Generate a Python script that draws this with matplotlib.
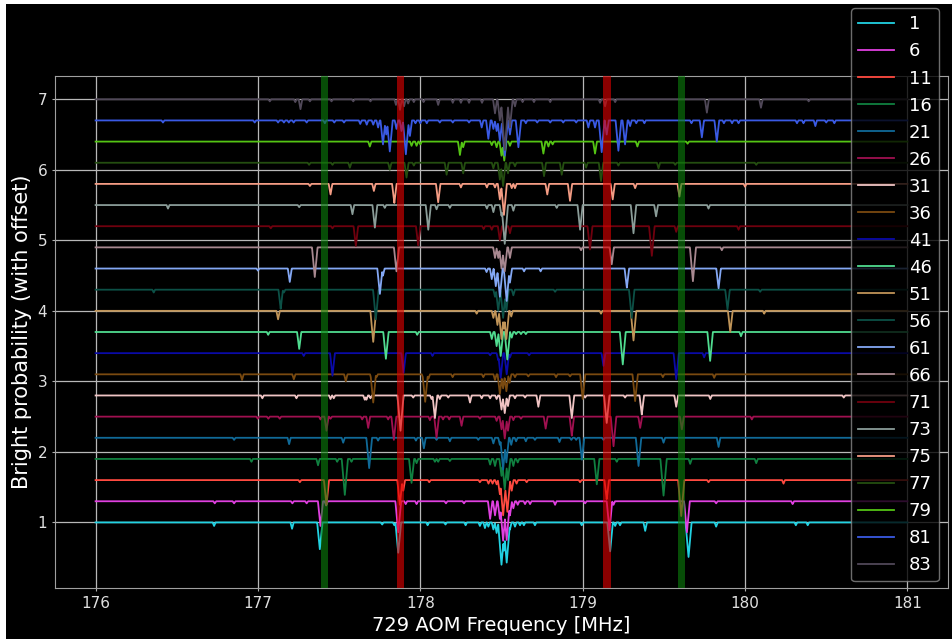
import numpy as np
import matplotlib
matplotlib.use("Agg")
import matplotlib.pyplot as plt
from matplotlib.patches import Rectangle

# Scan labels (one trace per scan) and their colours
LABELS = ["1", "6", "11", "16", "21", "26", "31", "36", "41", "46", "51",
          "56", "61", "66", "71", "73", "75", "77", "79", "81", "83"]
COLORS = ["#22d2e2", "#e040e0", "#ff4a40", "#108040", "#106a98", "#a01050",
          "#f0c4c4", "#7a4a10", "#0a0aa8", "#50dc90", "#c09458", "#0c5046",
          "#84a8f4", "#a88890", "#70000e", "#8a9c98", "#f49c84", "#244e10",
          "#54c414", "#3a5ae4", "#504858"]

OFFSET_STEP = 0.3
FREQ_START, FREQ_STOP = 176.0, 181.0

# Reference transitions (MHz)
GREEN_LINES = [177.41, 179.61]
RED_LINES = [177.877, 179.15]

# Dips in bright probability per scan: (frequency MHz, depth)
DIPS_1 = [(176.73, 0.05), (177.21, 0.09), (177.381, 0.38), (177.765, 0.03),
          (177.84, 0.04), (177.864, 0.43), (178.045, 0.04), (178.155, 0.03),
          (178.279, 0.04), (178.367, 0.05), (178.398, 0.08), (178.419, 0.06),
          (178.45, 0.10), (178.47, 0.15), (178.50, 0.60), (178.515, 0.40),
          (178.532, 0.57), (178.552, 0.10), (178.583, 0.06), (178.614, 0.04),
          (178.638, 0.04), (178.706, 0.04), (178.994, 0.04), (179.169, 0.41),
          (179.20, 0.05), (179.23, 0.04), (179.385, 0.12), (179.652, 0.49),
          (179.822, 0.06), (180.313, 0.04), (180.386, 0.04)]
DIPS_6 = [(176.734, 0.03), (176.853, 0.03), (177.212, 0.03), (177.30, 0.03),
          (177.385, 0.35), (177.42, 0.06), (177.864, 0.44), (177.91, 0.04),
          (177.977, 0.04), (178.158, 0.03), (178.269, 0.03), (178.43, 0.25),
          (178.46, 0.20), (178.49, 0.25), (178.51, 0.56), (178.532, 0.55),
          (178.552, 0.20), (178.573, 0.10), (178.60, 0.05), (178.645, 0.04),
          (178.676, 0.04), (178.83, 0.05), (179.015, 0.03), (179.165, 0.41),
          (179.19, 0.05), (179.642, 0.44), (179.822, 0.03), (180.293, 0.04)]
DIPS_11 = [(177.258, 0.03), (177.422, 0.35), (177.874, 0.35), (177.895, 0.15),
           (178.055, 0.03), (178.367, 0.03), (178.42, 0.05), (178.445, 0.05),
           (178.47, 0.06), (178.49, 0.20), (178.51, 0.50), (178.536, 0.45),
           (178.563, 0.15), (178.593, 0.05), (178.655, 0.03), (178.984, 0.03),
           (179.148, 0.27), (179.607, 0.51), (179.775, 0.03), (180.237, 0.05)]
DIPS_16 = [(176.96, 0.04), (177.37, 0.09), (177.488, 0.04), (177.535, 0.51),
           (177.576, 0.04), (177.946, 0.34), (177.977, 0.06), (178.09, 0.04),
           (178.11, 0.04), (178.182, 0.03), (178.43, 0.08), (178.46, 0.10),
           (178.50, 0.24), (178.52, 0.43), (178.54, 0.30), (178.573, 0.10),
           (178.60, 0.05), (179.087, 0.36), (179.21, 0.04), (179.498, 0.52),
           (179.662, 0.07), (180.069, 0.06)]
DIPS_21 = [(176.853, 0.03), (177.192, 0.09), (177.525, 0.07), (177.685, 0.43),
           (177.74, 0.04), (177.973, 0.04), (178.022, 0.15), (178.10, 0.03),
           (178.182, 0.05), (178.357, 0.03), (178.45, 0.08), (178.49, 0.10),
           (178.51, 0.45), (178.53, 0.35), (178.56, 0.10), (178.59, 0.05),
           (178.65, 0.05), (178.706, 0.03), (178.857, 0.06), (178.93, 0.03),
           (178.96, 0.03), (178.995, 0.31), (179.128, 0.03), (179.344, 0.40),
           (179.498, 0.07), (179.837, 0.13)]
DIPS_26 = [(176.999, 0.03), (177.064, 0.03), (177.134, 0.03), (177.385, 0.04),
           (177.422, 0.20), (177.447, 0.03), (177.642, 0.04), (177.679, 0.16),
           (177.802, 0.04), (177.837, 0.33), (178.059, 0.05), (178.10, 0.30),
           (178.14, 0.04), (178.178, 0.04), (178.254, 0.13), (178.367, 0.03),
           (178.47, 0.06), (178.50, 0.18), (178.52, 0.31), (178.54, 0.20),
           (178.573, 0.05), (178.62, 0.03), (178.772, 0.17), (178.933, 0.27),
           (179.19, 0.42), (179.354, 0.16), (179.611, 0.18), (180.042, 0.04)]
DIPS_31 = [(177.027, 0.04), (177.237, 0.04), (177.447, 0.05), (177.467, 0.04),
           (177.658, 0.06), (177.668, 0.06), (177.693, 0.04), (177.878, 0.50),
           (177.956, 0.03), (178.069, 0.05), (178.09, 0.32), (178.12, 0.05),
           (178.172, 0.03), (178.306, 0.10), (178.378, 0.04), (178.43, 0.04),
           (178.47, 0.05), (178.50, 0.20), (178.52, 0.25), (178.54, 0.15),
           (178.583, 0.04), (178.645, 0.03), (178.727, 0.16), (178.933, 0.32),
           (179.015, 0.03), (179.148, 0.39), (179.261, 0.03), (179.364, 0.27),
           (179.576, 0.16), (179.786, 0.05), (180.608, 0.03)]
DIPS_36 = [(176.902, 0.08), (177.221, 0.07), (177.541, 0.10), (177.70, 0.08),
           (177.71, 0.40), (177.73, 0.04), (178.018, 0.05), (178.03, 0.39),
           (178.05, 0.06), (178.199, 0.04), (178.388, 0.04), (178.46, 0.08),
           (178.49, 0.28), (178.51, 0.20), (178.53, 0.24), (178.55, 0.12),
           (178.583, 0.04), (178.665, 0.03), (178.836, 0.04), (178.922, 0.03),
           (179.00, 0.35), (179.323, 0.38), (179.494, 0.04), (179.81, 0.05)]
DIPS_41 = [(177.282, 0.04), (177.459, 0.32), (177.897, 0.28), (178.075, 0.04),
           (178.43, 0.03), (178.48, 0.10), (178.495, 0.35), (178.532, 0.30),
           (178.552, 0.06), (178.67, 0.03), (179.128, 0.18), (179.576, 0.37),
           (179.748, 0.06)]
DIPS_46 = [(177.063, 0.04), (177.254, 0.24), (177.788, 0.38), (177.981, 0.04),
           (178.44, 0.10), (178.47, 0.20), (178.495, 0.34), (178.536, 0.39),
           (178.563, 0.08), (178.59, 0.03), (178.62, 0.03), (178.65, 0.03),
           (179.247, 0.46), (179.785, 0.41), (179.975, 0.06)]
DIPS_51 = [(177.124, 0.12), (177.71, 0.44), (178.347, 0.04), (178.45, 0.10),
           (178.475, 0.20), (178.50, 0.40), (178.515, 0.25), (178.53, 0.40),
           (178.56, 0.08), (179.113, 0.04), (179.313, 0.42), (179.909, 0.30),
           (180.118, 0.04)]
DIPS_56 = [(176.358, 0.04), (177.14, 0.27), (177.16, 0.04), (177.726, 0.42),
           (178.46, 0.10), (178.48, 0.30), (178.51, 0.40), (178.53, 0.30),
           (178.573, 0.08), (178.83, 0.03), (179.302, 0.40), (179.892, 0.28),
           (180.093, 0.03)]
DIPS_61 = [(177.00, 0.03), (177.196, 0.19), (177.751, 0.36), (177.77, 0.10),
           (178.408, 0.05), (178.44, 0.15), (178.465, 0.25), (178.49, 0.40),
           (178.532, 0.46), (178.552, 0.20), (178.639, 0.04), (178.741, 0.04),
           (179.272, 0.27), (179.837, 0.28)]
DIPS_66 = [(177.35, 0.42), (177.853, 0.34), (178.46, 0.15), (178.48, 0.15),
           (178.50, 0.30), (178.52, 0.34), (178.552, 0.15), (178.99, 0.04),
           (179.179, 0.24), (179.679, 0.48), (179.857, 0.04)]
DIPS_71 = [(177.079, 0.03), (177.459, 0.03), (177.603, 0.28), (177.987, 0.27),
           (178.39, 0.04), (178.44, 0.05), (178.49, 0.20), (178.52, 0.16),
           (178.552, 0.10), (179.045, 0.33), (179.426, 0.42), (179.576, 0.08),
           (179.96, 0.05)]
DIPS_73 = [(176.446, 0.05), (177.254, 0.03), (177.582, 0.13), (177.72, 0.32),
           (177.781, 0.04), (178.049, 0.35), (178.10, 0.06), (178.182, 0.04),
           (178.41, 0.05), (178.45, 0.10), (178.50, 0.15), (178.52, 0.55),
           (178.573, 0.08), (178.84, 0.04), (178.984, 0.35), (179.313, 0.40),
           (179.452, 0.16), (179.775, 0.05)]
DIPS_75 = [(177.32, 0.03), (177.447, 0.15), (177.714, 0.10), (177.84, 0.27),
           (178.11, 0.26), (178.25, 0.05), (178.41, 0.05), (178.46, 0.05),
           (178.49, 0.22), (178.515, 0.44), (178.563, 0.06), (178.583, 0.06),
           (178.782, 0.15), (178.922, 0.24), (179.185, 0.22), (179.323, 0.06),
           (179.596, 0.18), (180.00, 0.04)]
DIPS_77 = [(177.315, 0.03), (177.459, 0.03), (177.566, 0.07), (177.812, 0.10),
           (177.915, 0.21), (177.96, 0.04), (178.162, 0.17), (178.264, 0.15),
           (178.45, 0.08), (178.49, 0.24), (178.51, 0.33), (178.54, 0.15),
           (178.583, 0.05), (178.762, 0.19), (178.871, 0.17), (179.021, 0.07),
           (179.113, 0.26), (179.22, 0.04), (179.467, 0.08), (179.57, 0.03),
           (180.069, 0.03)]
DIPS_79 = [(177.689, 0.07), (177.946, 0.06), (177.977, 0.06), (178.0, 0.04),
           (178.244, 0.19), (178.264, 0.08), (178.44, 0.05), (178.47, 0.08),
           (178.50, 0.20), (178.517, 0.27), (178.552, 0.06), (178.758, 0.17),
           (178.789, 0.07), (178.815, 0.04), (179.076, 0.17), (179.22, 0.04),
           (179.337, 0.07), (179.646, 0.03)]
DIPS_81 = [(176.415, 0.03), (176.98, 0.03), (177.124, 0.03), (177.16, 0.03),
           (177.19, 0.03), (177.22, 0.03), (177.30, 0.03), (177.412, 0.04),
           (177.47, 0.03), (177.53, 0.03), (177.63, 0.05), (177.67, 0.06),
           (177.71, 0.06), (177.74, 0.10), (177.77, 0.34), (177.79, 0.20),
           (177.812, 0.44), (177.853, 0.12), (177.884, 0.15), (177.911, 0.48),
           (177.936, 0.22), (177.97, 0.04), (178.00, 0.04), (178.04, 0.04),
           (178.12, 0.03), (178.2, 0.03), (178.3, 0.03), (178.378, 0.10),
           (178.419, 0.26), (178.45, 0.12), (178.47, 0.15), (178.49, 0.29),
           (178.52, 0.50), (178.552, 0.20), (178.604, 0.38), (178.65, 0.04),
           (178.72, 0.03), (178.80, 0.03), (178.88, 0.03), (178.96, 0.03),
           (179.035, 0.10), (179.076, 0.10), (179.117, 0.45), (179.148, 0.20),
           (179.22, 0.43), (179.261, 0.34), (179.292, 0.08), (179.33, 0.04),
           (179.38, 0.04), (179.67, 0.04), (179.734, 0.24), (179.826, 0.30),
           (179.87, 0.04), (179.92, 0.04), (179.96, 0.04), (180.32, 0.04),
           (180.36, 0.04), (180.433, 0.08), (180.5, 0.03), (180.55, 0.04)]
DIPS_83 = [(177.073, 0.03), (177.23, 0.04), (177.262, 0.14), (177.32, 0.03),
           (177.453, 0.03), (177.587, 0.03), (177.693, 0.03), (177.85, 0.08),
           (177.875, 0.15), (177.90, 0.10), (177.925, 0.06), (177.96, 0.04),
           (178.02, 0.04), (178.11, 0.08), (178.20, 0.05), (178.25, 0.05),
           (178.30, 0.05), (178.38, 0.05), (178.46, 0.20), (178.49, 0.30),
           (178.52, 0.72), (178.552, 0.40), (178.583, 0.10), (178.63, 0.04),
           (178.70, 0.04), (178.80, 0.04), (179.107, 0.05), (179.138, 0.10),
           (179.20, 0.04), (179.765, 0.19), (180.098, 0.12), (180.392, 0.03)]

DIPS = [DIPS_1, DIPS_6, DIPS_11, DIPS_16, DIPS_21, DIPS_26, DIPS_31,
        DIPS_36, DIPS_41, DIPS_46, DIPS_51, DIPS_56, DIPS_61, DIPS_66,
        DIPS_71, DIPS_73, DIPS_75, DIPS_77, DIPS_79, DIPS_81, DIPS_83]


def trace(freqs, dips, base):
    """Baseline with narrow V-shaped dips at the listed positions."""
    drop = np.zeros_like(freqs)
    for f0, depth in dips:
        half = 0.008 + 0.022 * depth
        shape = depth * np.clip(1.0 - np.abs(freqs - f0) / half, 0.0, None)
        drop = np.maximum(drop, shape)
    return base - drop


W, H = 952, 639
fig = plt.figure(figsize=(W / 100, H / 100), dpi=100, facecolor="white")
fig.patches.append(Rectangle((6 / W, 0), 1 - 6 / W, 1 - 4 / H,
                             transform=fig.transFigure, facecolor="black",
                             edgecolor="none", zorder=-10))

ax = fig.add_axes([55 / W, 1 - 588 / H, (948 - 55) / W, (588 - 76) / H])
ax.set_facecolor("black")
ax.set_axisbelow(True)
ax.grid(True, color="#b8b8b8", linewidth=0.9)
for sp in ax.spines.values():
    sp.set_color("#a0a0a0")
ax.tick_params(colors="#e0e0e0", labelsize=11, length=2.5, pad=3,
               color="#b0b0b0")

freqs = np.arange(FREQ_START, FREQ_STOP + 1e-9, 0.001)
for i, (lab, col, dips) in enumerate(zip(LABELS, COLORS, DIPS)):
    base = 1.0 + OFFSET_STEP * i
    ax.plot(freqs, trace(freqs, dips, base), color=col, lw=1.3, label=lab)

for f in GREEN_LINES:
    ax.axvspan(f - 0.022, f + 0.022, color="#0c820c", alpha=0.6, lw=0, zorder=5)
for f in RED_LINES:
    ax.axvspan(f - 0.022, f + 0.022, color="#e00000", alpha=0.62, lw=0, zorder=5)

ax.set_xticks([176, 177, 178, 179, 180, 181])
ax.set_yticks([1, 2, 3, 4, 5, 6, 7])
ax.margins(x=0.05, y=0.05)
ax.set_xlabel("729 AOM Frequency [MHz]", color="white", fontsize=14)
ax.set_ylabel("Bright probability (with offset)", color="white", fontsize=15)

leg = ax.legend(loc="upper right", bbox_to_anchor=(1.0, 1.15), fontsize=13,
                labelspacing=0.5, facecolor="black", edgecolor="#888888",
                framealpha=0.8, labelcolor="white")
leg.set_zorder(10)

fig.savefig("out.png", dpi=100, facecolor=fig.get_facecolor())
